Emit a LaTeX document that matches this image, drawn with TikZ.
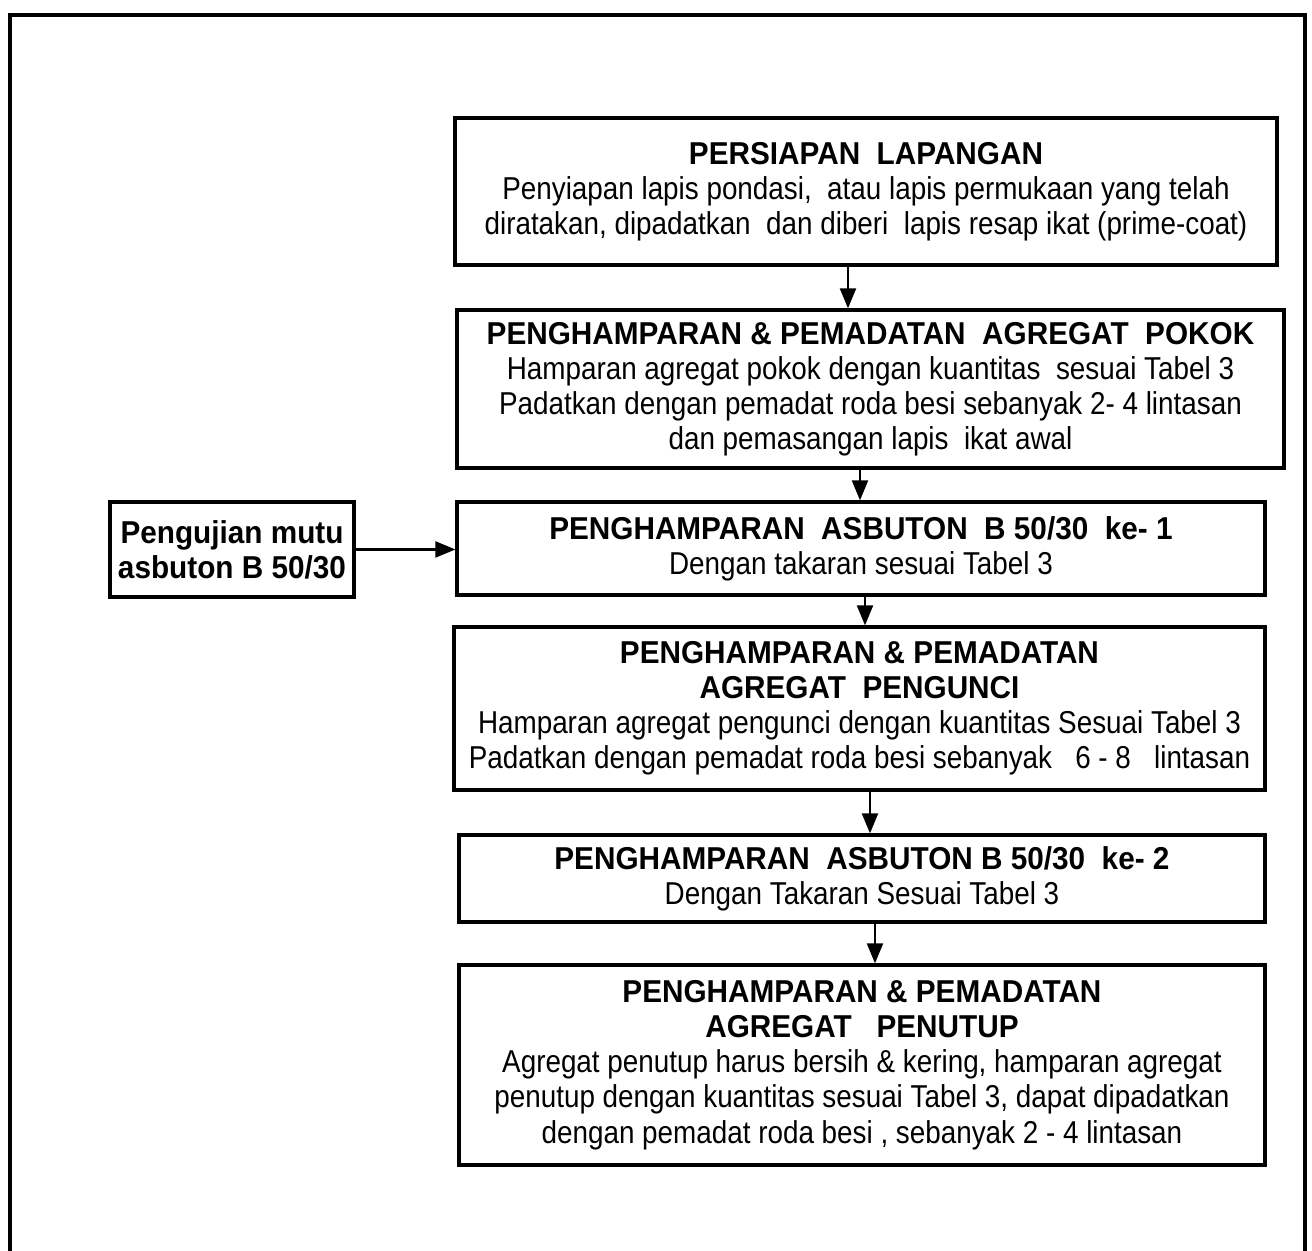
\documentclass[tikz,border=0pt]{standalone}
\usepackage{fontspec}
\setmainfont{Liberation Sans}[FakeStretch=0.94]
\newfontfamily\bodyfont{Liberation Sans}[FakeStretch=0.88]
\usetikzlibrary{positioning, arrows.meta}

\begin{document}
\begin{tikzpicture}[
    stepbox/.style={draw, line width=0.9pt, align=center, inner sep=2pt, font=\fontsize{9}{10}\selectfont},
    arr/.style={-{Triangle[length=2mm, width=1.6mm]}, line width=0.6pt},
]
    \useasboundingbox (0, 0) rectangle (13.12, 12.51);

    % Frame (bottom edge is cut off)
    \draw[line width=1pt] (0.10, 0) |- (13.05, 12.36) -- (13.05, 0);

    % Main steps
    \node[stepbox, minimum width=8.22cm, minimum height=1.47cm] (persiapan) at (8.66, 10.595)
        {\textbf{PERSIAPAN\ \ LAPANGAN}\\
         {\bodyfont Penyiapan lapis pondasi,\ \ atau lapis permukaan yang telah}\\
         {\bodyfont diratakan, dipadatkan\ \ dan diberi\ \ lapis resap ikat (prime-coat)}};

    \node[stepbox, minimum width=8.27cm, minimum height=1.58cm] (pokok) at (8.705, 8.62)
        {\textbf{PENGHAMPARAN \& PEMADATAN\ \ AGREGAT\ \ POKOK}\\
         {\bodyfont Hamparan agregat pokok dengan kuantitas\ \ sesuai Tabel 3}\\
         {\bodyfont Padatkan dengan pemadat roda besi sebanyak 2- 4 lintasan}\\
         {\bodyfont dan pemasangan lapis\ \ ikat awal}};

    \node[stepbox, minimum width=8.08cm, minimum height=0.93cm] (asbutonA) at (8.61, 7.025)
        {\textbf{PENGHAMPARAN\ \ ASBUTON\ \ B 50/30\ \ ke- 1}\\
         {\bodyfont Dengan takaran sesuai Tabel 3}};

    \node[stepbox, minimum width=8.11cm, minimum height=1.63cm] (pengunci) at (8.595, 5.425)
        {\textbf{PENGHAMPARAN \& PEMADATAN}\\
         \textbf{AGREGAT\ \ PENGUNCI}\\
         {\bodyfont Hamparan agregat pengunci dengan kuantitas Sesuai Tabel 3}\\
         {\bodyfont Padatkan dengan pemadat roda besi sebanyak\ \ \ 6 - 8\ \ \ lintasan}};

    \node[stepbox, minimum width=8.06cm, minimum height=0.87cm] (asbutonB) at (8.62, 3.725)
        {\textbf{PENGHAMPARAN\ \ ASBUTON B 50/30\ \ ke- 2}\\
         {\bodyfont Dengan Takaran Sesuai Tabel 3}};

    \node[stepbox, minimum width=8.06cm, minimum height=2.00cm] (penutup) at (8.62, 1.86)
        {\textbf{PENGHAMPARAN \& PEMADATAN}\\
         \textbf{AGREGAT\ \ \ PENUTUP}\\
         {\bodyfont Agregat penutup harus bersih \& kering, hamparan agregat}\\
         {\bodyfont penutup dengan kuantitas sesuai Tabel 3, dapat dipadatkan}\\
         {\bodyfont dengan pemadat roda besi , sebanyak 2 - 4 lintasan}};

    % Side input
    \node[stepbox, minimum width=2.44cm, minimum height=0.95cm] (uji) at (2.32, 7.015)
        {\textbf{Pengujian mutu}\\ \textbf{asbuton B 50/30}};

    % Arrows
    \draw[arr] (8.48, 0 |- persiapan.south) -- (8.48, 0 |- pokok.north);
    \draw[arr] (8.60, 0 |- pokok.south) -- (8.60, 0 |- asbutonA.north);
    \draw[arr] (8.65, 0 |- asbutonA.south) -- (8.65, 0 |- pengunci.north);
    \draw[arr] (8.70, 0 |- pengunci.south) -- (8.70, 0 |- asbutonB.north);
    \draw[arr] (8.75, 0 |- asbutonB.south) -- (8.75, 0 |- penutup.north);
    \draw[arr] (uji.east) -- (uji.east -| asbutonA.west);
\end{tikzpicture}
\end{document}
